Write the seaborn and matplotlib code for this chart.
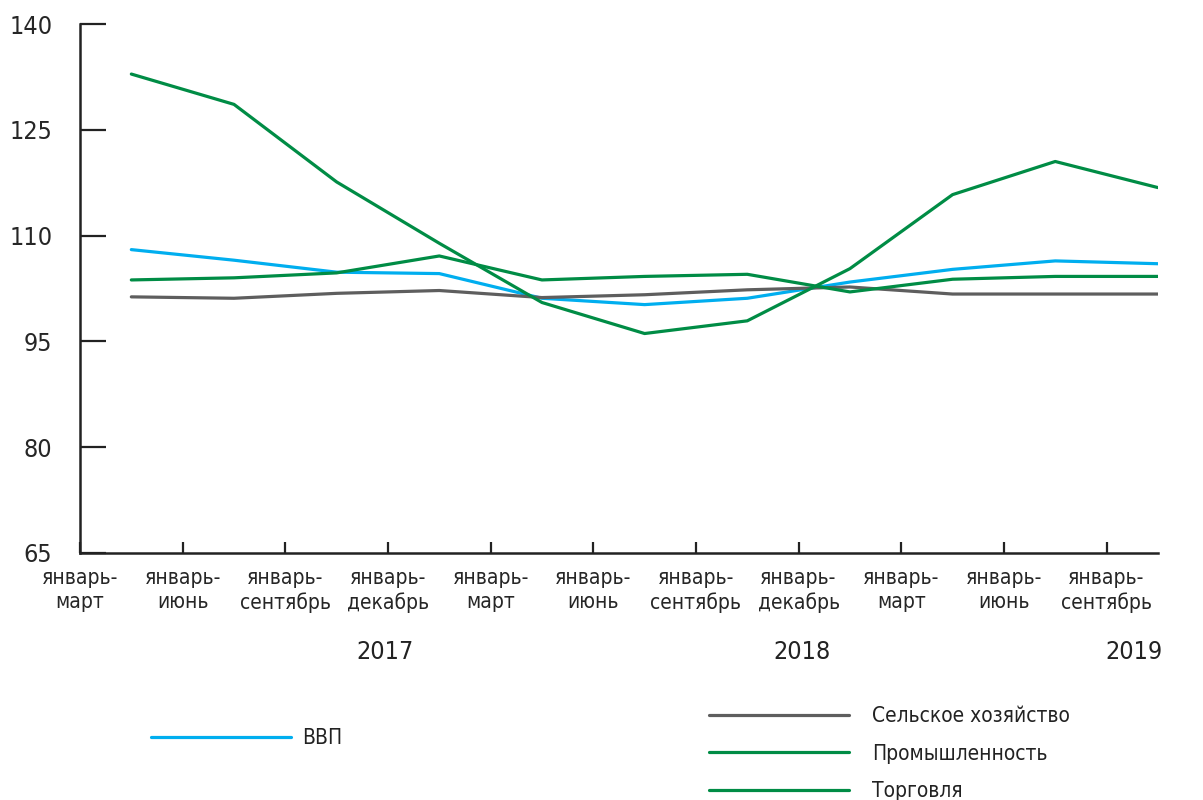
import numpy as np
import pandas as pd
import seaborn as sns
import matplotlib.pyplot as plt
from matplotlib.lines import Line2D
from matplotlib import font_manager

periods = ['январь-\nмарт', 'январь-\nиюнь', 'январь-\nсентябрь', 'январь-\nдекабрь',
           'январь-\nмарт', 'январь-\nиюнь', 'январь-\nсентябрь', 'январь-\nдекабрь',
           'январь-\nмарт', 'январь-\nиюнь', 'январь-\nсентябрь']
years = ['2017', '2018', '2019']

gdp = [108.0, 106.5, 104.8, 104.6, 101.1, 100.2, 101.1, 103.4, 105.2, 106.4, 106.0]
agro = [101.3, 101.1, 101.8, 102.2, 101.2, 101.6, 102.3, 102.7, 101.7, 101.7, 101.7]
industry = [132.9, 128.6, 117.6, 108.9, 100.5, 96.1, 97.9, 105.3, 115.8, 120.5, 116.8]
trade = [103.7, 104.0, 104.7, 107.1, 103.7, 104.2, 104.5, 102.0, 103.8, 104.2, 104.2]

names = ['ВВП', 'Сельское хозяйство', 'Промышленность', 'Торговля']
colors = ['#00AEEF', '#5E5E5E', '#008C45', '#008C45']

sns.set_style('white')
installed = {f.name for f in font_manager.fontManager.ttflist}
fams = [f for f in ['Liberation Sans Narrow', 'DejaVu Sans'] if f in installed]
plt.rcParams['font.family'] = fams
plt.rcParams['font.stretch'] = 'condensed'
plt.rcParams['text.color'] = '#222222'

pos = np.arange(len(periods)) + 0.5
rows = []
for name, vals in zip(names, [gdp, agro, industry, trade]):
    for p, v in zip(pos, vals):
        rows.append({'x': p, 'value': v, 'series': name})
df = pd.DataFrame(rows)

fig = plt.figure(figsize=(12.03, 8), dpi=100)
ax = fig.add_axes([0.0665, 0.309, 0.896, 0.661])

sns.lineplot(data=df, x='x', y='value', hue='series', hue_order=names,
             palette=dict(zip(names, colors)), linewidth=2.3, legend=False, ax=ax)

ax.set_xlim(0, len(periods) - 0.5)
ax.set_ylim(65, 140)
ax.set_yticks([65, 80, 95, 110, 125, 140])
ax.set_xticks(np.arange(len(periods)))
ax.set_xticklabels(periods, fontsize=15, linespacing=1.25)
ax.tick_params(axis='y', left=True, labelsize=18, direction='in', length=19, width=1.6,
               color='#222222', pad=20)
ax.tick_params(axis='x', bottom=True, direction='in', length=8, width=1.6,
               color='#222222', pad=11)
ax.set_xlabel('')
ax.set_ylabel('')
sns.despine(ax=ax)
for s in ['left', 'bottom']:
    ax.spines[s].set_linewidth(1.8)
    ax.spines[s].set_color('#222222')

# подписи годов
for yr, xp in zip(years, [2.97, 7.03, 10.27]):
    ax.text(xp, -0.187, yr, transform=ax.get_xaxis_transform(), ha='center',
            va='center', fontsize=18)

# легенда в два блока
def handle(c):
    return Line2D([], [], color=c, linewidth=2.3)

fig.legend([handle(colors[0])], [names[0]], loc='center left',
           bbox_to_anchor=(0.11, 0.0775), frameon=False, fontsize=15,
           handlelength=6.7, handletextpad=0.55)
fig.legend([handle(c) for c in colors[1:]], names[1:], loc='center left',
           bbox_to_anchor=(0.574, 0.058), frameon=False, fontsize=15,
           handlelength=6.7, handletextpad=1.1, labelspacing=0.85)

fig.savefig('out.png', dpi=100)
